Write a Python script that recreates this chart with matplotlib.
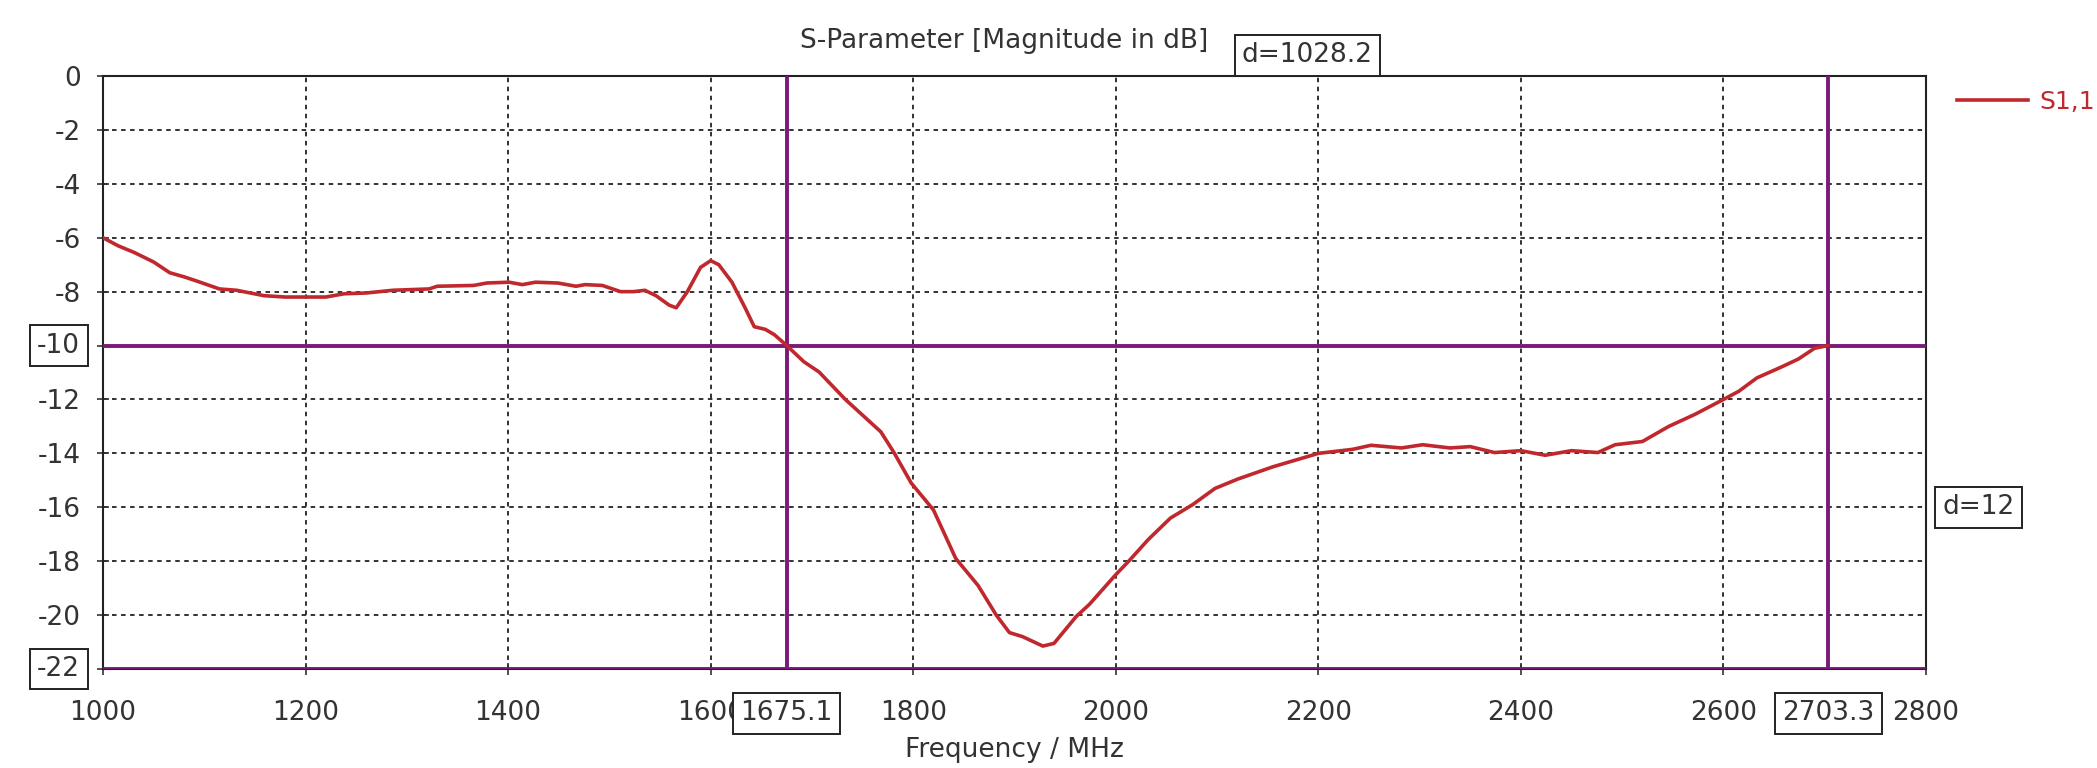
import matplotlib
matplotlib.use('Agg')
import matplotlib.pyplot as plt
import numpy as np

# S11 curve (MHz, dB)
freq = [1000, 1015, 1031, 1050, 1066, 1080, 1092, 1115, 1132, 1159, 1180, 1200,
        1220, 1238, 1260, 1286, 1322, 1330, 1366, 1379, 1401, 1414, 1427, 1449,
        1467, 1476, 1493, 1511, 1524, 1535, 1546, 1559, 1566, 1577, 1590, 1600,
        1608, 1621, 1634, 1643, 1654, 1663, 1675.1, 1692, 1707, 1733, 1768, 1781,
        1798, 1820, 1842, 1864, 1882, 1895, 1908, 1928, 1939, 1961, 1974, 2000,
        2014, 2032, 2054, 2076, 2098, 2120, 2155, 2200, 2234, 2252, 2282, 2303,
        2330, 2350, 2374, 2400, 2424, 2450, 2476, 2493, 2520, 2546, 2572, 2600,
        2615, 2633, 2657, 2674, 2690, 2703.3]
s11 = [-6.0, -6.3, -6.55, -6.9, -7.3, -7.45, -7.6, -7.9, -7.95, -8.15, -8.2, -8.2,
       -8.2, -8.08, -8.05, -7.95, -7.9, -7.8, -7.77, -7.68, -7.65, -7.74, -7.65, -7.68,
       -7.8, -7.74, -7.77, -8.0, -8.0, -7.95, -8.15, -8.5, -8.6, -8.0, -7.1, -6.85,
       -7.0, -7.65, -8.6, -9.3, -9.4, -9.6, -10.0, -10.6, -10.98, -12.0, -13.2, -13.97,
       -15.1, -16.1, -17.9, -18.9, -20.0, -20.65, -20.8, -21.15, -21.05, -20.05, -19.6, -18.5,
       -17.95, -17.2, -16.4, -15.9, -15.3, -14.96, -14.5, -14.0, -13.85, -13.7, -13.8, -13.68,
       -13.8, -13.75, -13.97, -13.9, -14.07, -13.9, -13.97, -13.68, -13.56, -13.0, -12.55, -12.0,
       -11.7, -11.2, -10.8, -10.5, -10.1, -10.0]

# markers
marker_x = [1675.1, 2703.3]
marker_y = [-10, -22]

x_ticks = [1000, 1200, 1400, 1600, 1800, 2000, 2200, 2400, 2600, 2800]
y_ticks = [0, -2, -4, -6, -8, -10, -12, -14, -16, -18, -20, -22]

curve_color = '#c0282d'
marker_color = '#7a1a78'
text_color = '#333333'

plt.rcParams['font.family'] = ['DejaVu Sans']
plt.rcParams['axes.unicode_minus'] = False

fig = plt.figure(figsize=(20.97, 7.68), dpi=100)
ax = fig.add_axes([103 / 2097, 1 - 669 / 768, 1823 / 2097, 593 / 768])

ax.plot(freq, s11, color=curve_color, lw=2.6, label='S1,1', zorder=3)

for mx in marker_x:
    ax.axvline(mx, color=marker_color, lw=2.8, zorder=2.6)
for my in marker_y:
    ax.axhline(my, color=marker_color, lw=2.8, zorder=2.6)

ax.set_xlim(1000, 2800)
ax.set_ylim(-22, 0)
ax.set_xticks(x_ticks)
ax.set_yticks(y_ticks)
# the marker levels get their own boxed labels
ax.set_yticklabels(['' if v in marker_y else str(v) for v in y_ticks])
ax.grid(True, color='#222222', linestyle=(0, (2.5, 2.5)), lw=1.3)
ax.tick_params(direction='inout', length=8, width=1.2, labelsize=19,
               colors=text_color)
ax.tick_params(axis='x', pad=18)
ax.tick_params(axis='y', pad=12)
for sp in ax.spines.values():
    sp.set_color('#222222')
    sp.set_linewidth(1.5)

ax.set_title('S-Parameter [Magnitude in dB]', fontsize=19, color=text_color,
             x=0.4945, pad=20)
ax.set_xlabel('Frequency / MHz', fontsize=19, color=text_color, labelpad=8)

box = dict(boxstyle='square,pad=0.28', fc='white', ec='#222222', lw=1.4)
trans_x = ax.get_xaxis_transform()
trans_y = ax.get_yaxis_transform()

# boxed marker values on the frequency axis
for mx in marker_x:
    ax.text(mx, -0.075, f'{mx:.1f}', transform=trans_x, ha='center', va='center',
            fontsize=19, color=text_color, bbox=box, clip_on=False, zorder=5)
# boxed marker values on the dB axis
for my in marker_y:
    ax.text(-0.0125, my, f'{my}', transform=trans_y, ha='right', va='center',
            fontsize=19, color=text_color, bbox=box, clip_on=False, zorder=5)

# deltas between markers
dx = marker_x[1] - marker_x[0]
dy = marker_y[0] - marker_y[1]
ax.text((marker_x[0] + marker_x[1]) / 2, 1.013, f'd={dx:.1f}', transform=trans_x,
        ha='center', va='bottom', fontsize=19, color=text_color, bbox=box,
        clip_on=False, zorder=5)
ax.text(1.009, (marker_y[0] + marker_y[1]) / 2, f'd={dy}', transform=trans_y,
        ha='left', va='center', fontsize=19, color=text_color, bbox=box,
        clip_on=False, zorder=5)

fig.legend(loc='center left', bbox_to_anchor=(1957 / 2097, 1 - 102 / 768),
           frameon=False, fontsize=18, handlelength=2.85, handletextpad=0.45,
           borderpad=0, borderaxespad=0, labelcolor='linecolor')

fig.savefig('out.png', dpi=100, facecolor='white')
